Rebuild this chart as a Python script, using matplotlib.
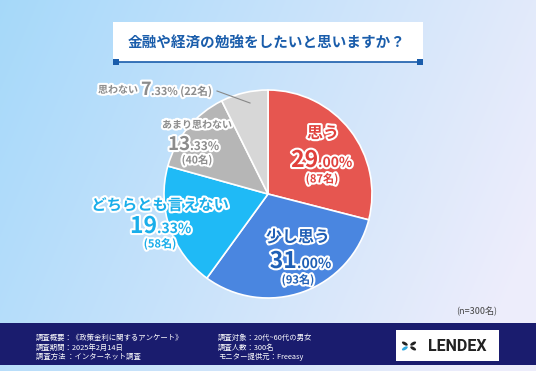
import numpy as np
import matplotlib
matplotlib.use("Agg")
import matplotlib.pyplot as plt
from matplotlib.patches import Rectangle, Ellipse
import matplotlib.patheffects as pe

plt.rcParams['font.family'] = ['Noto Sans CJK JP', 'DejaVu Sans']

# ---- data ----
title = "金融や経済の勉強をしたいと思いますか？"
categories = ["思う", "少し思う", "どちらとも言えない", "あまり思わない", "思わない"]
percent_int = ["29", "31", "19", "13", "7"]
percent_dec = [".00%", ".00%", ".33%", ".33%", ".33%"]
counts = [87, 93, 58, 40, 22]
colors = ["#E65650", "#4A86E0", "#1FBAF6", "#B6B6B6", "#D7D7D7"]
n_note = "(n=300名)"
footer_left = ["調査概要：《政策金利に関するアンケート》", "調査期間：2025年2月14日", "調査方法 ：インターネット調査"]
footer_right = ["調査対象：20代~60代の男女", "調査人数：300名", "モニター提供元：Freeasy"]

W, H = 536, 371
fig = plt.figure(figsize=(W / 100, H / 100), dpi=100)

# background gradient
bg = fig.add_axes([0, 0, 1, 1])
bg.set_xlim(0, W)
bg.set_ylim(H, 0)
bg.axis('off')
yy, xx = np.mgrid[0:H, 0:W]
u = np.clip((xx / W) * 0.85 + (yy / H) * 0.25, 0, 1)
c1 = np.array([0.65, 0.85, 0.98])
c2 = np.array([0.93, 0.93, 0.985])
img = c1[None, None, :] * (1 - u[..., None]) + c2[None, None, :] * u[..., None]
bg.imshow(img, extent=[0, W, H, 0], aspect='auto', zorder=0)

# title box
bg.add_patch(Rectangle((113, 22), 310, 40, facecolor='white', edgecolor='none', zorder=2))
bg.plot([116, 420], [62, 62], color='#1A5DAB', lw=1.2, zorder=3)
for sx in (116, 420):
    bg.add_patch(Rectangle((sx - 2.8, 62 - 2.8), 5.6, 5.6, facecolor='#1A5DAB', edgecolor='none', zorder=4))
bg.text(267, 43, title, ha='center', va='center', fontsize=10.5, fontweight='bold',
        color='#1A5DAB', zorder=5)

# footer
bg.add_patch(Rectangle((0, 323), W, 42, facecolor='#1A1C6E', edgecolor='none', zorder=2))
for i, t in enumerate(footer_left):
    bg.text(36, 338 + i * 9.5, t, ha='left', va='center', fontsize=5.3, color='white', zorder=5)
for i, t in enumerate(footer_right):
    bg.text(218, 338 + i * 9.5, t, ha='left', va='center', fontsize=5.3, color='white', zorder=5)
bg.text(477, 312, n_note, ha='center', va='center', fontsize=6.5, color='#444444', zorder=5)

# logo
bg.add_patch(Rectangle((396, 330), 103, 31, facecolor='white', edgecolor='none', zorder=3))
icx, icy = 409, 346
for ang, col in [(30, '#222222'), (150, '#222222'), (210, '#2FA8E0'), (330, '#222222')]:
    a = np.deg2rad(ang)
    bg.add_patch(Ellipse((icx + 4.8 * np.cos(a), icy - 4.8 * np.sin(a)), 6.5, 3.0, angle=-ang,
                         facecolor=col, edgecolor='none', zorder=4))
bg.text(457, 346.5, "LENDEX", ha='center', va='center', fontsize=11.5, fontweight='bold',
        color='#222222', zorder=5, family=['Roboto', 'DejaVu Sans'])

# pie
cx, cy, R = 268, 194, 104
ax = fig.add_axes([(cx - R) / W, (H - cy - R) / H, 2 * R / W, 2 * R / H])
ax.pie(counts, colors=colors, startangle=90, counterclock=False,
       wedgeprops=dict(edgecolor='white', linewidth=1.2))
ax.set_xlim(-1, 1)
ax.set_ylim(-1, 1)
ax.axis('off')

def P(px, py):
    return ((px - cx) / R, (cy - py) / R)

white_stroke = [pe.withStroke(linewidth=3, foreground='white')]

# label specs: (name pos, name size, split x, number baseline y, int size, dec size, count pos, color, count size)
specs = [
    ((323, 133), 11.5, 318, 167, 16.5, 10, (322, 179), '#E0413C', 8),
    ((298, 237), 11.5, 297, 268, 16.5, 10, (298, 280), '#1F5FB5', 8),
    ((160, 205), 11, 157, 233, 16.5, 10, (160, 244), '#1AAEEA', 8),
    ((197, 125), 7.2, 190, 150, 13.5, 8.5, (197, 160), '#8C8C8C', 7.5),
]
for i, (npos, nsz, spx, ny, isz, dsz, cpos, col, csz) in enumerate(specs):
    kw = dict(color=col, fontweight='bold', path_effects=white_stroke, clip_on=False, zorder=5)
    ax.text(*P(*npos), categories[i], ha='center', va='center', fontsize=nsz, **kw)
    ax.text(*P(spx, ny), percent_int[i], ha='right', va='baseline', fontsize=isz, **kw)
    ax.text(*P(spx, ny), percent_dec[i], ha='left', va='baseline', fontsize=dsz, **kw)
    ax.text(*P(*cpos), f"({counts[i]}名)", ha='center', va='center', fontsize=csz, **kw)

# 思わない outside label
kw = dict(color='#8C8C8C', fontweight='bold', path_effects=white_stroke, clip_on=False, zorder=5)
ax.text(*P(138, 90), categories[4], ha='right', va='center', fontsize=7.2, **kw)
ax.text(*P(141, 95), percent_int[4], ha='left', va='baseline', fontsize=13, **kw)
ax.text(*P(151, 95), f"{percent_dec[4]} ({counts[4]}名)", ha='left', va='baseline', fontsize=7.8, **kw)
ax.plot(*zip(P(217, 91), P(250, 103)), color='#888888', lw=0.8, clip_on=False, zorder=5)

fig.savefig("out.png", dpi=100)
